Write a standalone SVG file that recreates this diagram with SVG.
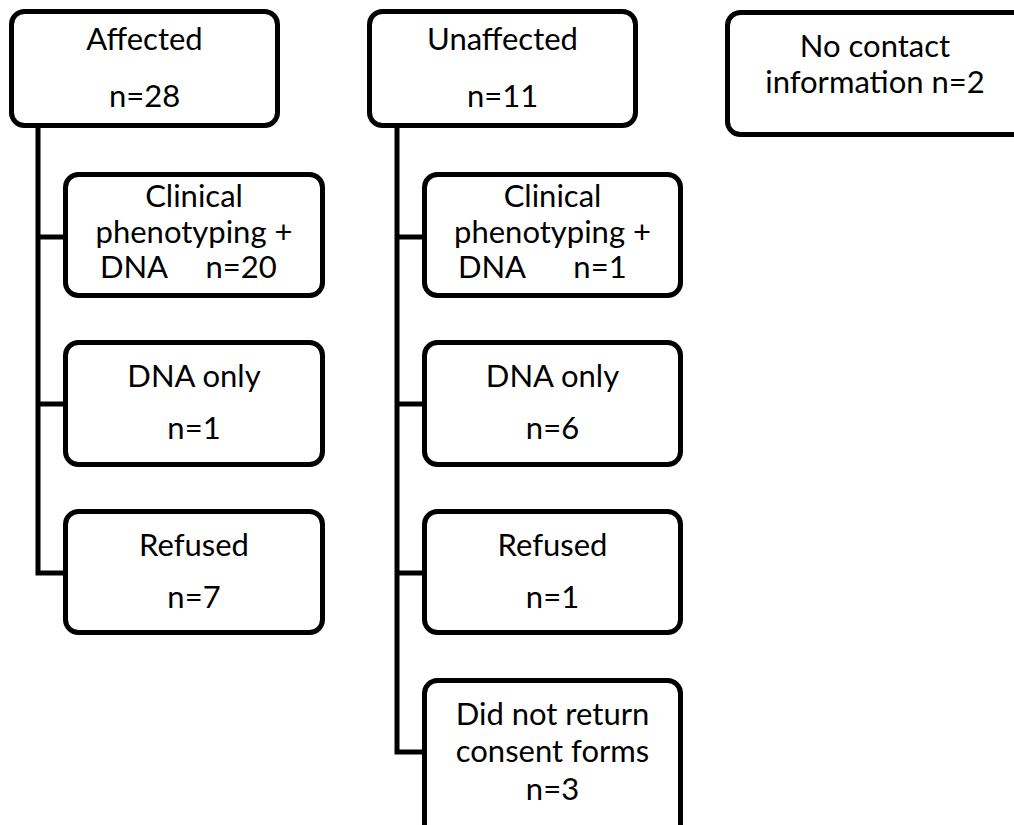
<svg xmlns="http://www.w3.org/2000/svg" width="1014" height="825" viewBox="0 0 1014 825">
<style>
.box{fill:#fff;stroke:#000;stroke-width:5}
.c{fill:none;stroke:#000;stroke-width:5;stroke-linejoin:miter}
text{font-family:Lato,"Open Sans",sans-serif;font-size:31px;fill:#000;text-anchor:middle}
</style>
<rect width="1014" height="825" fill="#fff"/>
<g id="connectors">
<path class="c" d="M38,128 V573 H63 M38,237 H63 M38,404 H63"/>
<path class="c" d="M397,128 V752 H422 M397,237 H422 M397,404 H422 M397,573 H422"/>
</g>
<g id="affected">
<rect class="box" x="11.5" y="11.5" width="266" height="114" rx="13"/>
<text x="144.5" y="50">Affected</text>
<text x="144.5" y="107">n=28</text>
</g>
<g id="unaffected">
<rect class="box" x="369.5" y="11.5" width="266" height="114" rx="13"/>
<text x="502.5" y="50">Unaffected</text>
<text x="502.5" y="107">n=11</text>
</g>
<g id="nocontact">
<rect class="box" x="727.5" y="12.5" width="300" height="122" rx="13"/>
<text x="875" y="57">No contact</text>
<text x="875" y="93">information n=2</text>
</g>
<g id="a-clinical">
<rect class="box" x="65.5" y="174.5" width="257" height="121" rx="13"/>
<text x="194" y="207">Clinical</text>
<text x="194" y="243">phenotyping +</text>
<text y="278"><tspan x="134">DNA</tspan><tspan x="241">n=20</tspan></text>
</g>
<g id="a-dnaonly">
<rect class="box" x="65.5" y="342.5" width="257" height="122" rx="13"/>
<text x="194" y="387">DNA only</text>
<text x="194" y="439">n=1</text>
</g>
<g id="a-refused">
<rect class="box" x="65.5" y="511.5" width="257" height="121" rx="13"/>
<text x="194" y="556">Refused</text>
<text x="194" y="608">n=7</text>
</g>
<g id="u-clinical">
<rect class="box" x="424.5" y="174.5" width="256" height="121" rx="13"/>
<text x="552.5" y="207">Clinical</text>
<text x="552.5" y="243">phenotyping +</text>
<text y="278"><tspan x="492">DNA</tspan><tspan x="600">n=1</tspan></text>
</g>
<g id="u-dnaonly">
<rect class="box" x="424.5" y="342.5" width="256" height="122" rx="13"/>
<text x="552.5" y="387">DNA only</text>
<text x="552.5" y="439">n=6</text>
</g>
<g id="u-refused">
<rect class="box" x="424.5" y="511.5" width="256" height="121" rx="13"/>
<text x="552.5" y="556">Refused</text>
<text x="552.5" y="608">n=1</text>
</g>
<g id="u-didnotreturn">
<rect class="box" x="424.5" y="680.5" width="256" height="160" rx="13"/>
<text x="552.5" y="725">Did not return</text>
<text x="552.5" y="762">consent forms</text>
<text x="552.5" y="800">n=3</text>
</g>
</svg>
